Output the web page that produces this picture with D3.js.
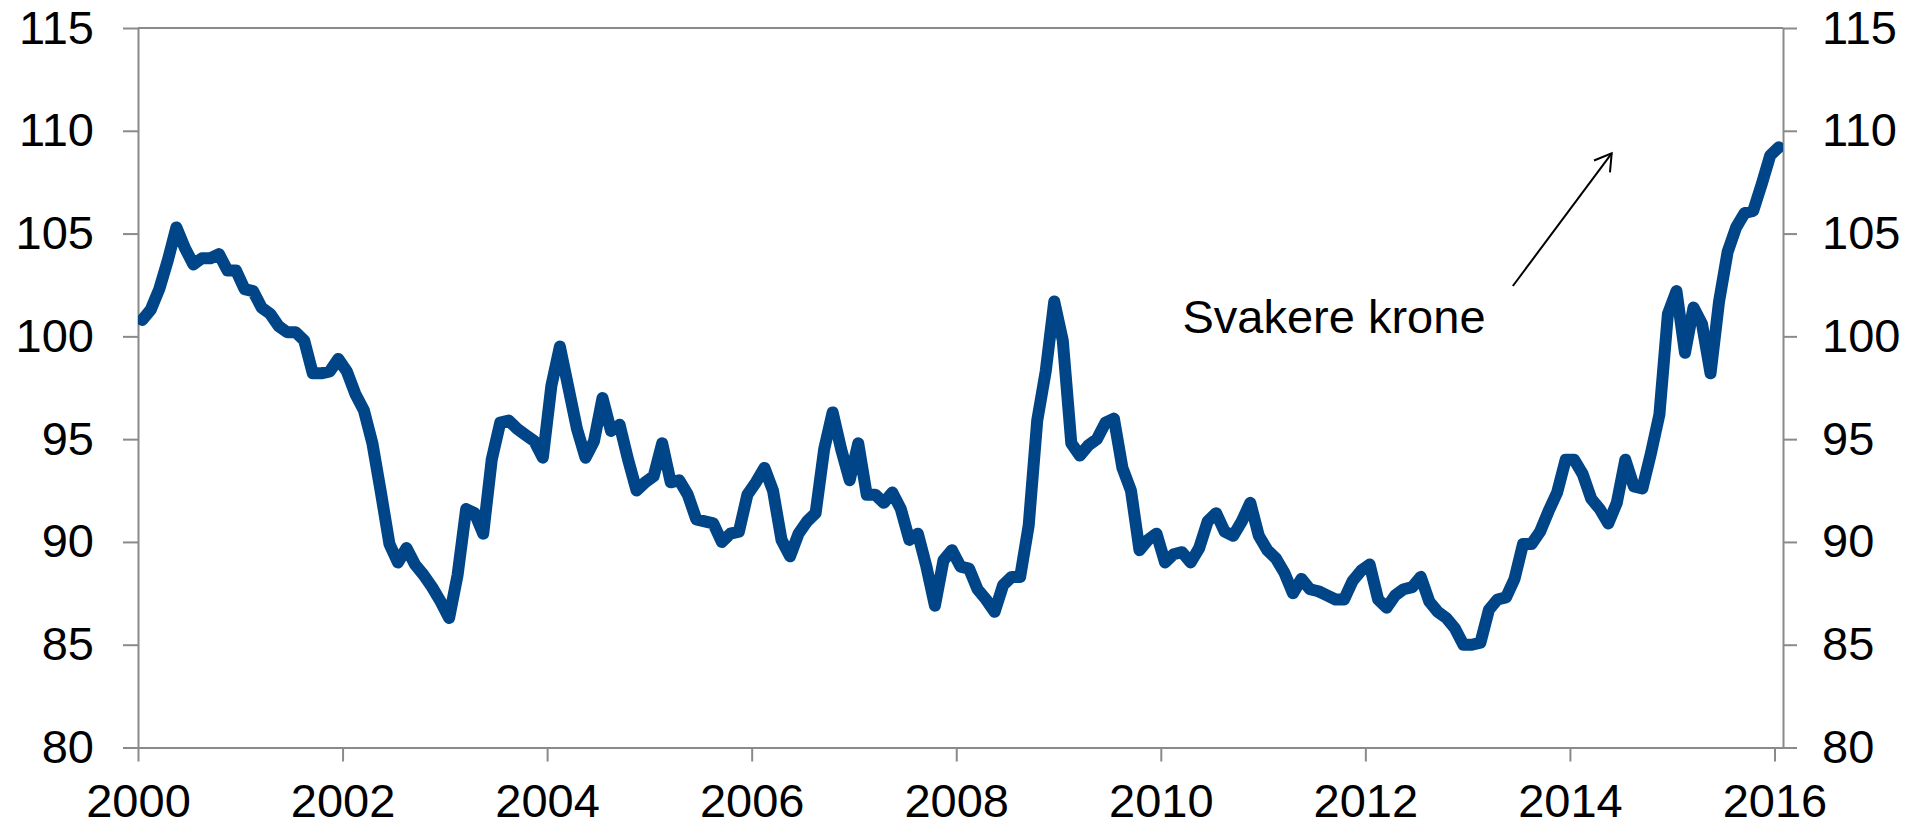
<!DOCTYPE html>
<html>
<head>
<meta charset="utf-8">
<script src="https://cdn.jsdelivr.net/npm/d3@7"></script>
<style>
  body { margin: 0; background: #fff; }
  svg { display: block; font-family: "Liberation Sans", Arial, sans-serif; }
  .axis path, .axis line { stroke: #8a8a8a; stroke-width: 2; }
  .axis text { font-size: 47px; fill: #000; }
</style>
</head>
<body>
<svg id="chart" width="1921" height="826"></svg>
<script>
// monthly index, Jan 2000 .. Jan 2016
const startYear = 2000;
const indexValues = [
  100.8, 101.3, 102.3, 103.7, 105.3, 104.3, 103.5, 103.8, 103.8, 104.0, 103.2, 103.2,
  102.3, 102.2, 101.4, 101.1, 100.5, 100.2, 100.2, 99.8, 98.2, 98.2, 98.3, 98.9,
  98.3, 97.2, 96.4, 94.8, 92.4, 89.9, 89.0, 89.7, 88.9, 88.4, 87.8, 87.1,
  86.3, 88.4, 91.6, 91.4, 90.4, 94.0, 95.8, 95.9, 95.5, 95.2, 94.9, 94.1,
  97.6, 99.5, 97.5, 95.5, 94.1, 94.9, 97.0, 95.4, 95.7, 94.0, 92.5, 92.9,
  93.2, 94.8, 92.9, 93.0, 92.3, 91.1, 91.0, 90.9, 90.0, 90.4, 90.5, 92.3,
  92.9, 93.6, 92.5, 90.1, 89.3, 90.4, 91.0, 91.4, 94.5, 96.3, 94.5, 93.0,
  94.8, 92.3, 92.3, 91.9, 92.4, 91.6, 90.1, 90.4, 88.8, 86.9, 89.1, 89.6,
  88.8, 88.7, 87.7, 87.2, 86.6, 87.9, 88.3, 88.3, 90.8, 95.9, 98.3, 101.7,
  99.8, 94.8, 94.2, 94.7, 95.0, 95.8, 96.0, 93.6, 92.5, 89.6, 90.1, 90.4,
  89.0, 89.4, 89.5, 89.0, 89.7, 91.0, 91.4, 90.5, 90.3, 91.0, 91.9, 90.3,
  89.6, 89.2, 88.5, 87.5, 88.2, 87.7, 87.6, 87.4, 87.2, 87.2, 88.1, 88.6,
  88.9, 87.2, 86.8, 87.4, 87.7, 87.8, 88.3, 87.1, 86.6, 86.3, 85.8, 85.0,
  85.0, 85.1, 86.7, 87.2, 87.3, 88.2, 89.9, 89.9, 90.5, 91.5, 92.4, 94.0,
  94.0, 93.3, 92.1, 91.6, 90.9, 91.9, 94.0, 92.7, 92.6, 94.3, 96.2, 101.1,
  102.2, 99.2, 101.4, 100.6, 98.2, 101.7, 104.1, 105.3, 106.0, 106.1, 107.4, 108.8,
  109.2
];
const yTicks = [80, 85, 90, 95, 100, 105, 110, 115];
const xTickYears = [2000, 2002, 2004, 2006, 2008, 2010, 2012, 2014, 2016];
const annotationText = "Svakere krone";

const svg = d3.select('#chart');
const plotLeft = 138, plotRight = 1783, plotTop = 28, plotBottom = 747.5;

// one slot per month, points sit in the middle of their month
let x = d3.scaleLinear().domain([0, indexValues.length]).range([plotLeft, plotRight]);
let y = d3.scaleLinear().domain([80, 115]).range([plotBottom, plotTop]);

// top border of the plot area
svg.append('line')
  .attr('x1', plotLeft).attr('x2', plotRight)
  .attr('y1', y(115)).attr('y2', y(115))
  .attr('stroke', '#8a8a8a').attr('stroke-width', 2);

svg.append('g')
  .attr('class', 'axis')
  .attr('transform', `translate(${plotLeft},0)`)
  .call(d3.axisLeft(y).tickValues(yTicks).tickSize(15).tickPadding(29).tickSizeOuter(0));

svg.append('g')
  .attr('class', 'axis')
  .attr('transform', `translate(${plotRight},0)`)
  .call(d3.axisRight(y).tickValues(yTicks).tickSize(14).tickPadding(25).tickSizeOuter(0));

svg.append('g')
  .attr('class', 'axis')
  .attr('transform', `translate(0,${plotBottom})`)
  .call(d3.axisBottom(x)
    .tickValues(xTickYears.map(yr => (yr - startYear) * 12))
    .tickFormat((d, i) => xTickYears[i])
    .tickSize(14).tickPadding(22).tickSizeOuter(0));

// clip the thick line at the axes
svg.append('clipPath').attr('id', 'plotClip')
  .append('rect')
  .attr('x', plotLeft).attr('y', 0)
  .attr('width', plotRight - plotLeft).attr('height', 826);

let line = d3.line()
  .x((d, i) => x(i + 0.5))
  .y(d => y(d));

svg.append('path')
  .datum(indexValues)
  .attr('clip-path', 'url(#plotClip)')
  .attr('fill', 'none')
  .attr('stroke', '#004587')
  .attr('stroke-width', 12)
  .attr('stroke-linejoin', 'round')
  .attr('stroke-linecap', 'round')
  .attr('d', line);

// annotation
svg.append('text')
  .attr('x', x(158.1)).attr('y', y(100.15))
  .attr('text-anchor', 'end')
  .attr('font-size', 47)
  .attr('fill', '#000')
  .text(annotationText);

let tail = [x(161.3), y(102.45)];
let tip = [x(172.9), y(108.9)];
let ang = Math.atan2(tip[1] - tail[1], tip[0] - tail[0]);
let headLen = 19, spread = 0.55;
svg.append('line')
  .attr('x1', tail[0]).attr('y1', tail[1])
  .attr('x2', tip[0]).attr('y2', tip[1])
  .attr('stroke', '#000').attr('stroke-width', 2);
svg.append('path')
  .attr('fill', 'none').attr('stroke', '#000').attr('stroke-width', 2)
  .attr('d', d3.line()([
    [tip[0] - headLen * Math.cos(ang - spread), tip[1] - headLen * Math.sin(ang - spread)],
    tip,
    [tip[0] - headLen * Math.cos(ang + spread), tip[1] - headLen * Math.sin(ang + spread)]
  ]));
</script>
</body>
</html>
